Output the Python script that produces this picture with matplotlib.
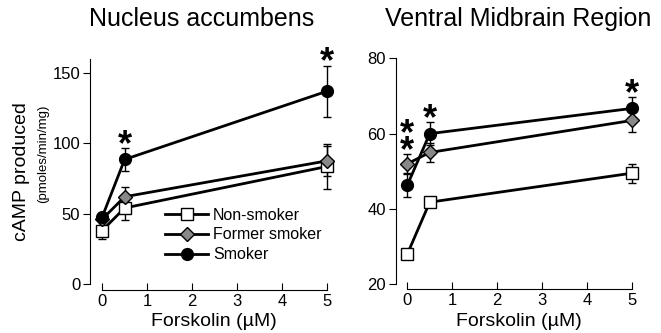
import matplotlib
matplotlib.use("Agg")
import matplotlib.pyplot as plt

plt.rcParams['font.family'] = ['Liberation Sans', 'DejaVu Sans']

# forskolin doses (uM)
dose = [0, 0.5, 5]
groups = ['Non-smoker', 'Former smoker', 'Smoker']

# Nucleus accumbens
nacc_non = [38, 54, 83.5]
nacc_non_err = [6, 8.5, 16]
nacc_former = [46, 62, 87.5]
nacc_former_err = [4, 7, 10.5]
nacc_smoker = [47.5, 88.5, 137]
nacc_smoker_err = [3, 8, 18]

# Ventral midbrain region
vmb_non = [28, 41.8, 49.5]
vmb_non_err = [1, 1, 2.5]
vmb_former = [52, 55, 63.5]
vmb_former_err = [2.5, 2.5, 3]
vmb_smoker = [46.3, 60, 66.7]
vmb_smoker_err = [3, 3, 3]

# significance marks: (dose, y of asterisk centre)
nacc_stars = [(0.5, 104), (5, 163)]
vmb_stars = [(0, 62), (0, 57.5), (0.5, 65.8), (5, 72.5)]

W, H = 661, 333
fig = plt.figure(figsize=(W / 100, H / 100), dpi=100)


def add_panel(left_px, right_px, top_px, bottom_px):
    return fig.add_axes([left_px / W, 1 - bottom_px / H,
                         (right_px - left_px) / W, (bottom_px - top_px) / H])


styles = [
    dict(marker='s', mfc='white', mec='black', ms=8),
    dict(marker='D', mfc='#888888', mec='black', ms=7),
    dict(marker='o', mfc='black', mec='black', ms=8.5),
]


def draw(ax, series, errs, stars, ylim, ybounds, yticks, xlim):
    for vals, err, st, name in zip(series, errs, styles, groups):
        ax.errorbar(dose, vals, yerr=err, fmt='none', ecolor='black',
                    elinewidth=1, capsize=3, capthick=1, zorder=2)
        ax.plot(dose, vals, color='black', lw=2, mew=1, zorder=3,
                label=name, **st)
    for x, y in stars:
        # glyph sits high in its box, so nudge it down
        ax.annotate('*', (x, y), xytext=(0, -6), textcoords='offset points',
                    ha='center', va='center', fontsize=26,
                    fontweight='bold', zorder=5)
    ax.set_xlim(*xlim)
    ax.set_ylim(*ylim)
    ax.spines['top'].set_visible(False)
    ax.spines['right'].set_visible(False)
    ax.spines['left'].set_bounds(*ybounds)
    ax.spines['bottom'].set_bounds(0, 5)
    ax.set_yticks(yticks)
    ax.set_xticks([0, 1, 2, 3, 4, 5])
    ax.tick_params(axis='y', direction='out', length=5, labelsize=12, pad=2)
    ax.tick_params(axis='x', direction='in', length=5, labelsize=12, pad=3)


ax1 = add_panel(90, 340.6, 51.8, 289.6)
draw(ax1, [nacc_non, nacc_former, nacc_smoker],
     [nacc_non_err, nacc_former_err, nacc_smoker_err], nacc_stars,
     (-4, 165), (0, 160), [0, 50, 100, 150], (-0.27, 5.3))
ax1.legend(loc='upper left', bbox_to_anchor=(0.3, 0.345), frameon=False,
           fontsize=11.5, handlelength=2.7, handletextpad=0.3,
           labelspacing=0.3, borderpad=0, borderaxespad=0)

ax2 = add_panel(395.7, 645.3, 53.8, 289.2)
draw(ax2, [vmb_non, vmb_former, vmb_smoker],
     [vmb_non_err, vmb_former_err, vmb_smoker_err], vmb_stars,
     (18.7, 81.2), (20, 80), [20, 40, 60, 80], (-0.258, 5.3))

fig.text(202 / W, 1 - 19 / H, 'Nucleus accumbens', ha='center', va='center',
         fontsize=18)
fig.text(518 / W, 1 - 19 / H, 'Ventral Midbrain Region', ha='center',
         va='center', fontsize=18)
fig.text(214 / W, 1 - 322 / H, 'Forskolin (\u00b5M)', ha='center',
         va='center', fontsize=14)
fig.text(519 / W, 1 - 322 / H, 'Forskolin (\u00b5M)', ha='center',
         va='center', fontsize=14)
fig.text(22 / W, 1 - 172 / H, 'cAMP produced', ha='center', va='center',
         rotation=90, fontsize=14)
fig.text(43 / W, 1 - 154 / H, '(pmoles/min/mg)', ha='center', va='center',
         rotation=90, fontsize=9.5)

fig.savefig('out.png', dpi=100)
